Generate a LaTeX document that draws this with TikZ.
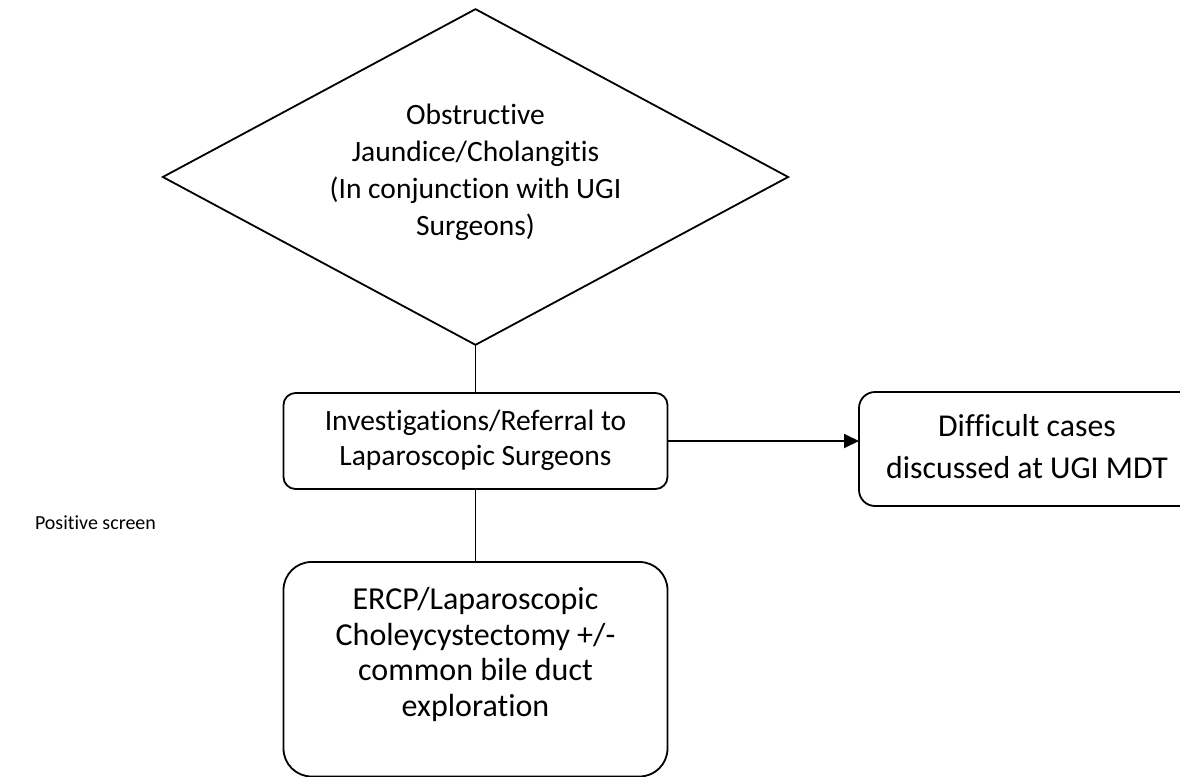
\documentclass[tikz,border=0pt]{standalone}
\usepackage{fontspec}
\setmainfont{Carlito}[Ligatures={NoCommon}]
\usetikzlibrary{shapes.geometric,arrows.meta}
\begin{document}
\begin{tikzpicture}[x=1pt,y=-1pt,
  every node/.style={inner sep=0pt, outer sep=0pt},
  flow/.style={draw, line width=1.8pt},
  decision/.style={flow, diamond, aspect=1.86, minimum width=625.3pt, minimum height=335.7pt},
  roundbox/.style={flow, rectangle, rounded corners=#1},
  roundbox/.default=12pt,
  link/.style={line width=1.8pt},
  note/.style={font=\fontsize{20}{24}\selectfont}
  ]
\useasboundingbox (0,0) rectangle (1180,776);

\node[decision] (dx) at (475.5,177)
  {\fontsize{29.5}{37}\selectfont\begin{tabular}{@{}c@{}}Obstructive\\Jaundice/Cholangitis\\(In conjunction with UGI\\Surgeons)\\[9pt]\end{tabular}};

\node[roundbox=12pt, minimum width=384pt, minimum height=96pt] (b1) at (475.5,441)
  {\fontsize{29.5}{35}\selectfont\begin{tabular}{@{}c@{}}Investigations/Referral to\\Laparoscopic Surgeons\end{tabular}};

\node[roundbox=16pt, minimum width=336pt, minimum height=114pt] (b2) at (1027,449)
  {\fontsize{31.8}{42}\selectfont\begin{tabular}{@{}c@{}}Difficult cases\\discussed at UGI MDT\end{tabular}};

\node[roundbox=28pt, minimum width=384pt, minimum height=214.5pt] (b3) at (475.5,669.25)
  {\fontsize{32}{35.5}\selectfont\begin{tabular}{@{}c@{}}ERCP/Laparoscopic\\Choleycystectomy +/-\\common bile duct\\exploration\\[27pt]\end{tabular}};

\node[note, anchor=base west] (ps) at (35,529) {Positive screen};

\draw[link] (dx.south) -- (b1.north);
\draw[link] (b1.south) -- (b3.north);
\draw[link, -{Triangle[length=15pt,width=14pt]}] (b1.east) -- (b1.east -| b2.west);
\end{tikzpicture}
\end{document}
